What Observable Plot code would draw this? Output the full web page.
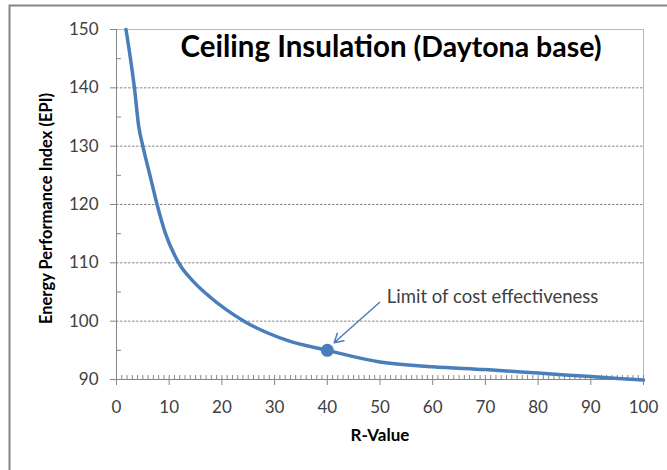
<!DOCTYPE html>
<html>
<head>
<meta charset="utf-8">
<script src="https://cdn.jsdelivr.net/npm/d3@7"></script>
<script src="https://cdn.jsdelivr.net/npm/@observablehq/plot@0.6"></script>
<style>
  html, body { margin: 0; padding: 0; background: white; overflow: hidden; }
</style>
</head>
<body>
<div id="chart"></div>
<script>
// ---- data ----
const rValues = [1.8, 2.65, 3.4, 4.2, 5.0, 6.35, 7.7, 9.3, 11.8, 14.7, 17.8, 24.2, 32.4, 40, 50, 60, 70, 80, 90, 100];
const epiValues = [150, 145, 140, 133.5, 130, 125, 120, 115, 110, 106.7, 104.1, 100, 96.7, 95, 93, 92.2, 91.7, 91.1, 90.5, 89.9];
const xTicks = [0, 10, 20, 30, 40, 50, 60, 70, 80, 90, 100];
const yTicks = [90, 100, 110, 120, 130, 140, 150];
const yMinorTicks = [95, 105, 115, 125, 135, 145];
const xMinorTicks = d3.range(0, 101, 1);
const limitPoint = [{r: 40, epi: 95}];
const annotationText = ["Limit of cost effectiveness"];
const annotationPos = [{r: 51.3, epi: 104.2}];
const arrowFrom = [{r: 49.9, epi: 103.2}];
const arrowTo = [{r: 41.3, epi: 96.3}];
const titleMain = "Ceiling Insulation";
const titleSub = " (Daytona base)";
const xTitle = "R-Value";
const yTitle = "Energy Performance Index (EPI)";

const curve = rValues.map((r, i) => ({r, epi: epiValues[i]}));
const annotation = annotationPos.map((p, i) => ({...p, text: annotationText[i]}));
const arrows = arrowFrom.map((p, i) => ({x1: p.r, y1: p.epi, x2: arrowTo[i].r, y2: arrowTo[i].epi}));

const blue = "#4a7ebb";
const axisGray = "#868686";
const labelColor = "#404040";

const svg = Plot.plot({
  width: 667,
  height: 470,
  marginLeft: 116,
  marginTop: 29,
  marginRight: 24,
  marginBottom: 91,
  style: {fontFamily: "Lato, 'Open Sans', sans-serif", fontSize: "17px", background: "white", overflow: "hidden"},
  x: {domain: [0, 100]},
  y: {domain: [90, 150]},
  marks: [
    Plot.gridY(yTicks.filter(d => d > 90 && d < 150), {stroke: axisGray, strokeOpacity: 1, strokeDasharray: "2.5,1.5"}),
    Plot.ruleY([150], {stroke: "#b8b8b8"}),
    Plot.ruleX([100], {stroke: "#b8b8b8"}),
    Plot.ruleX([0], {stroke: axisGray}),
    Plot.ruleY([90], {stroke: axisGray}),
    Plot.ruleY(yMinorTicks, {stroke: axisGray, insetRight: 522}),
    Plot.ruleX(xMinorTicks, {stroke: axisGray, insetTop: 346}),
    Plot.axisY({ticks: yTicks, tickSize: 6, tickPadding: 12, label: null, stroke: axisGray, fill: labelColor, fontSize: 17}),
    Plot.axisX({ticks: xTicks, tickSize: 6, tickPadding: 15, label: null, stroke: axisGray, fill: labelColor, fontSize: 17}),
    Plot.line(curve, {x: "r", y: "epi", stroke: blue, strokeWidth: 3.5, curve: "monotone-x"}),
    Plot.dot(limitPoint, {x: "r", y: "epi", r: 6.5, fill: blue}),
    Plot.arrow(arrows, {x1: "x1", y1: "y1", x2: "x2", y2: "y2", stroke: blue, strokeWidth: 1.5, headLength: 10}),
    Plot.text(annotation, {x: "r", y: "epi", text: "text", textAnchor: "start", fontSize: 18.5, fill: labelColor}),
    Plot.text([titleMain], {frameAnchor: "top-left", dx: 64, dy: 18, textAnchor: "start", lineAnchor: "middle", fontSize: 29.5, fontWeight: "bold", fill: "black", className: "ttl"}),
    Plot.text([xTitle], {frameAnchor: "bottom", dy: 56, textAnchor: "middle", lineAnchor: "middle", fontSize: 17, fontWeight: "bold", fill: "black"}),
    Plot.text([yTitle], {frameAnchor: "left", dx: -70, dy: 4, rotate: -90, textAnchor: "middle", lineAnchor: "middle", fontSize: 16.5, fontWeight: "bold", fill: "black"})
  ]
});

// subtitle part of the title, in a smaller size, as a tspan
d3.select(svg).select("g.ttl text").append("tspan").attr("font-size", 28.5).text(titleSub);
// outer chart-area border
d3.select(svg).append("rect")
  .attr("x", 9.5).attr("y", 5.5).attr("width", 720).attr("height", 520)
  .attr("fill", "none").attr("stroke", axisGray).attr("stroke-width", 2);

document.getElementById("chart").appendChild(svg);
</script>
</body>
</html>
